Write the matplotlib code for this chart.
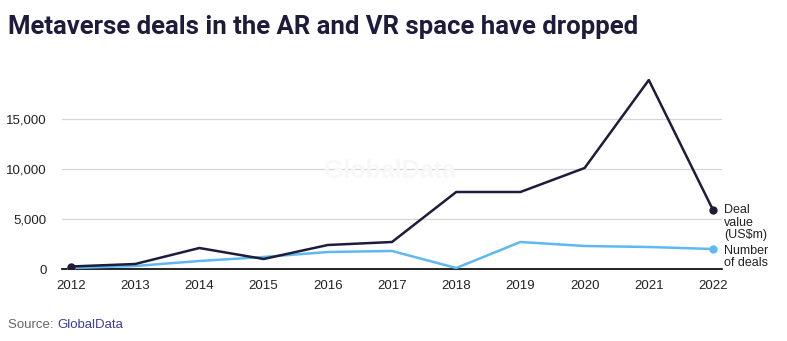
import matplotlib.pyplot as plt

years = [2012, 2013, 2014, 2015, 2016, 2017, 2018, 2019, 2020, 2021, 2022]
deal_value = [250, 500, 2100, 1000, 2400, 2700, 7700, 7700, 10100, 18900, 5900]
num_deals = [100, 300, 800, 1200, 1700, 1800, 100, 2700, 2300, 2200, 2000]
yticks = [0, 5000, 10000, 15000]

navy = "#1e1c3a"
sky = "#5fb8ef"

plt.rcParams['font.family'] = ['Liberation Sans', 'DejaVu Sans']

fig = plt.figure(figsize=(7.87, 3.41), dpi=100)
ax = fig.add_axes([62 / 787, 1 - 269 / 341, 660 / 787, 190 / 341])

ax.plot(years, num_deals, color=sky, lw=1.8, zorder=3)
ax.plot(years, deal_value, color=navy, lw=1.8, zorder=4)
# end markers
ax.plot([years[0], years[-1]], [num_deals[0], num_deals[-1]], 'o', color=sky, ms=5, zorder=3)
ax.plot([years[0], years[-1]], [deal_value[0], deal_value[-1]], 'o', color=navy, ms=5, zorder=4)

ax.set_xlim(2011.86, 2022.14)
ax.set_ylim(0, 19000)
ax.set_xticks(years)
ax.set_yticks(yticks)
ax.set_yticklabels([f"{v:,}" for v in yticks])
ax.tick_params(length=0, labelsize=9.5, colors="#222222")
ax.tick_params(axis='x', pad=8)
ax.tick_params(axis='y', pad=11)
for s in ['top', 'right', 'left']:
    ax.spines[s].set_visible(False)
ax.spines['bottom'].set_color('black')
ax.spines['bottom'].set_linewidth(1.2)
ax.grid(axis='y', color='#d6d6d6', lw=0.9)
ax.set_axisbelow(True)

# series labels at the right end
ax.annotate("Deal\nvalue\n(US$m)", (years[-1], deal_value[-1]), xytext=(8, 4),
            textcoords='offset points', va='top', ha='left', fontsize=9,
            color='#222222', linespacing=1.05, annotation_clip=False)
ax.annotate("Number\nof deals", (years[-1], num_deals[-1]), xytext=(8, 3),
            textcoords='offset points', va='top', ha='left', fontsize=9,
            color='#222222', linespacing=1.05, annotation_clip=False)

# faint watermark
fig.text(0.495, 0.50, "GlobalData", fontsize=18, fontweight='bold',
         color='#f8f8f9', ha='center', va='center', zorder=0)

fig.text(8 / 787, 1 - 27 / 341, "Metaverse deals in the AR and VR space have dropped",
         fontsize=18.5, fontweight='bold', color=navy, va='center', ha='left',
         family=['Roboto', 'DejaVu Sans'])
src = fig.text(8 / 787, 1 - 325 / 341, "Source: ", fontsize=9.5, color='#666666',
               va='center', ha='left')
fig.canvas.draw()
bb = src.get_window_extent()
fig.text(bb.x1 / 787, 1 - 325 / 341, "GlobalData", fontsize=9.5, color='#3f3c99',
         va='center', ha='left')

fig.savefig("out.png", dpi=100)
